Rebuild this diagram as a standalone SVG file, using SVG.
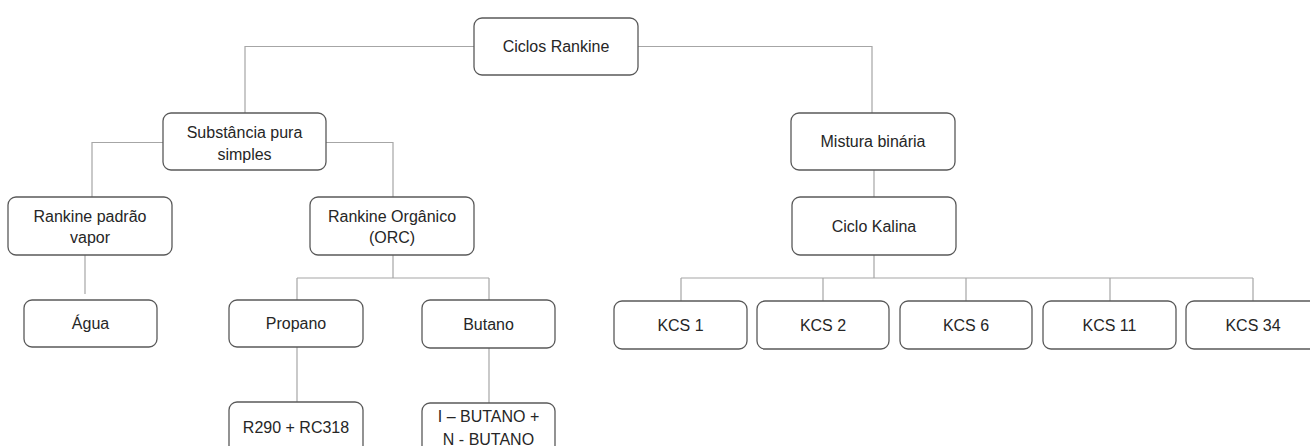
<svg xmlns="http://www.w3.org/2000/svg" width="1310" height="446" viewBox="0 0 1310 446">
<style>
.bg{fill:#ffffff}
.box{fill:#ffffff;stroke:#595959;stroke-width:1.3}
.t{font-family:"Liberation Sans",Arial,sans-serif;font-size:16px;fill:#262626;text-anchor:middle;dominant-baseline:central}
.c{fill:none;stroke:#a6a6a6;stroke-width:1.2}
</style>
<rect class="bg" x="0" y="0" width="1310" height="446"/>
<g id="connectors">
<path class="c" d="M474 46.5 H245 V113"/>
<path class="c" d="M638 46.5 H872 V113"/>
<path class="c" d="M163 142.5 H92 V197"/>
<path class="c" d="M326 142.5 H393 V197"/>
<path class="c" d="M874 170 V197"/>
<path class="c" d="M85 255 V294"/>
<path class="c" d="M393 255 V278 M297 278 H489 M297 278 V300 M489 278 V300"/>
<path class="c" d="M297 347 V402"/>
<path class="c" d="M489 348 V403"/>
<path class="c" d="M874 255 V278 M681 278 H1253 M681 278 V301 M823 278 V301 M966 278 V301 M1110 278 V301 M1253 278 V301"/>
</g>
<g id="n-root"><rect class="box" x="474" y="18" width="164" height="57" rx="8"/><text class="t" x="556" y="46.5">Ciclos Rankine</text></g>
<g id="n-sub"><rect class="box" x="163" y="113" width="163" height="57" rx="8"/><text class="t" x="244.5" y="132.5">Substância pura</text><text class="t" x="244.5" y="154">simples</text></g>
<g id="n-mist"><rect class="box" x="791" y="113" width="164" height="57" rx="8"/><text class="t" x="873" y="141.5">Mistura binária</text></g>
<g id="n-rpv"><rect class="box" x="8" y="197" width="164" height="58" rx="8"/><text class="t" x="90" y="216.5">Rankine padrão</text><text class="t" x="90" y="237.5">vapor</text></g>
<g id="n-orc"><rect class="box" x="310" y="197" width="164" height="58" rx="8"/><text class="t" x="392" y="216.5">Rankine Orgânico</text><text class="t" x="392" y="237.5">(ORC)</text></g>
<g id="n-kal"><rect class="box" x="792" y="197" width="164" height="58" rx="8"/><text class="t" x="874" y="226">Ciclo Kalina</text></g>
<g id="n-agua"><rect class="box" x="24" y="300" width="133" height="47" rx="8"/><text class="t" x="90.5" y="323.5">Água</text></g>
<g id="n-prop"><rect class="box" x="229" y="300" width="134" height="47" rx="8"/><text class="t" x="296" y="323.5">Propano</text></g>
<g id="n-but"><rect class="box" x="422" y="300" width="133" height="48" rx="8"/><text class="t" x="488.5" y="324">Butano</text></g>
<g id="n-r290"><rect class="box" x="229" y="402" width="134" height="60" rx="8"/><text class="t" x="296" y="427.5">R290 + RC318</text></g>
<g id="n-ibut"><rect class="box" x="422" y="403" width="133" height="60" rx="8"/><text class="t" x="488.5" y="416.5">I – BUTANO +</text><text class="t" x="488.5" y="439">N - BUTANO</text></g>
<g id="n-kcs1"><rect class="box" x="614" y="301" width="133" height="48" rx="8"/><text class="t" x="680.5" y="325">KCS 1</text></g>
<g id="n-kcs2"><rect class="box" x="757" y="301" width="132" height="48" rx="8"/><text class="t" x="823" y="325">KCS 2</text></g>
<g id="n-kcs6"><rect class="box" x="900" y="301" width="132" height="48" rx="8"/><text class="t" x="966" y="325">KCS 6</text></g>
<g id="n-kcs11"><rect class="box" x="1043" y="301" width="133" height="48" rx="8"/><text class="t" x="1109.5" y="325">KCS 11</text></g>
<g id="n-kcs34"><rect class="box" x="1186" y="301" width="134" height="48" rx="8"/><text class="t" x="1253" y="325">KCS 34</text></g>
</svg>
